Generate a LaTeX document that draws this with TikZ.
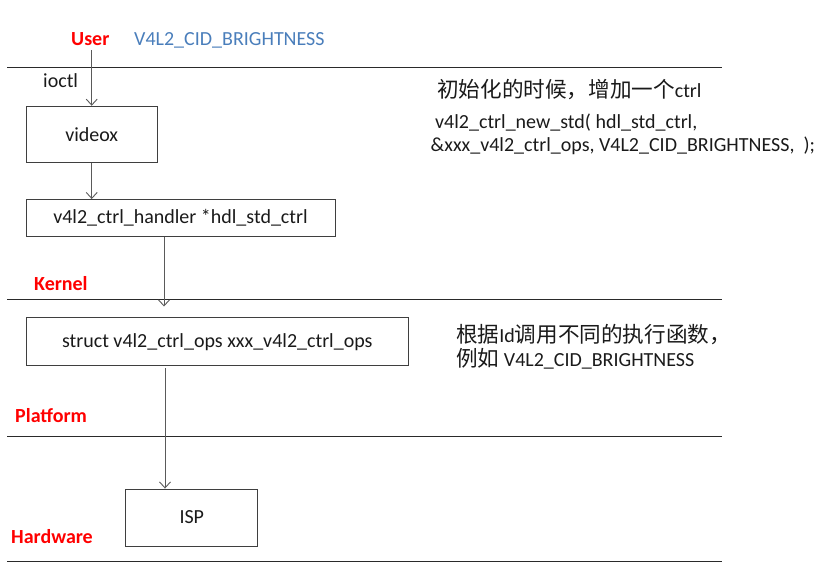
\documentclass[tikz,border=0pt]{standalone}
\usepackage{fontspec}
\setmainfont{Carlito}
\newfontfamily\cjk[Scale=1.08]{Noto Sans CJK SC}
\usetikzlibrary{arrows.meta}
\definecolor{txt}{HTML}{1A1A1A}
\definecolor{lbl}{HTML}{FF0000}
\definecolor{blu}{HTML}{4A7EBB}
\definecolor{arr}{HTML}{5A5A5A}
\definecolor{sep}{HTML}{2A2A2A}
\tikzset{
  box/.style={draw=sep!90, line width=0.9pt, inner sep=0pt, text=txt, font=\fontsize{20}{24}\selectfont},
  layer/.style={anchor=base west, inner sep=0pt, text=lbl, font=\fontsize{20}{24}\selectfont\bfseries},
  note/.style={anchor=base west, inner sep=0pt, text=txt, font=\fontsize{20}{24}\selectfont},
  flow/.style={draw=arr, line width=0.9pt, -{Straight Barb[length=6pt,width=11pt,line width=0.9pt]}},
  sepline/.style={draw=sep, line width=1pt}
}
\begin{document}
\begin{tikzpicture}[x=1pt,y=-1pt]
\useasboundingbox (0,0) rectangle (821,563);
% separator lines
\draw[sepline] (7,67) -- (722,67);
\draw[sepline] (7,299) -- (722,299);
\draw[sepline] (7,436) -- (722,436);
\draw[sepline] (7,561) -- (722,561);
% layer labels
\node[layer] (user) at (71,45) {User};
\node[note, text=blu] (cid) at (134,45) {V4L2\_CID\_BRIGHTNESS};
\node[note] (ioctl) at (43,87) {ioctl};
\node[layer] (kernel) at (34,290) {Kernel};
\node[layer] (platform) at (15,422) {Platform};
\node[layer] (hardware) at (11,543) {Hardware};
% boxes
\node[box, minimum width=131pt, minimum height=56pt] (videox) at (91.7,134.2) {videox};
\node[box, minimum width=309pt, minimum height=37pt] (hdl) at (180.5,218) {v4l2\_ctrl\_handler *hdl\_std\_ctrl};
\node[box, minimum width=382pt, minimum height=48pt] (ops) at (217.3,341.7) {struct v4l2\_ctrl\_ops xxx\_v4l2\_ctrl\_ops};
\node[box, minimum width=132pt, minimum height=57pt] (isp) at (191.8,517.5) {ISP};
% notes
\node[note] (n1) at (437,97.5) {{\cjk 初始化的时候，增加一个}ctrl};
\node[note] (n2) at (435,128) {v4l2\_ctrl\_new\_std( hdl\_std\_ctrl,};
\node[note] (n3) at (430.5,151.7) {\&xxx\_v4l2\_ctrl\_ops, V4L2\_CID\_BRIGHTNESS,~ );};
\node[note] (n4) at (456,342) {{\cjk 根据}Id{\cjk 调用不同的执行函数，}};
\node[note] (n5) at (456,366) {{\cjk 例如} V4L2\_CID\_BRIGHTNESS};
% connectors
\coordinate (ustart) at (91.7,50);
\coordinate (kend) at (164,306.5);
\coordinate (hstart) at (164,236.5);
\coordinate (ostart) at (165,368);
\draw[flow] (ustart) -- (videox.north);
\draw[flow] (videox.south) -- (videox.south |- hdl.north);
\draw[flow] (hstart) -- (kend);
\draw[flow] (ostart) -- (ostart |- isp.north);
\end{tikzpicture}
\end{document}
